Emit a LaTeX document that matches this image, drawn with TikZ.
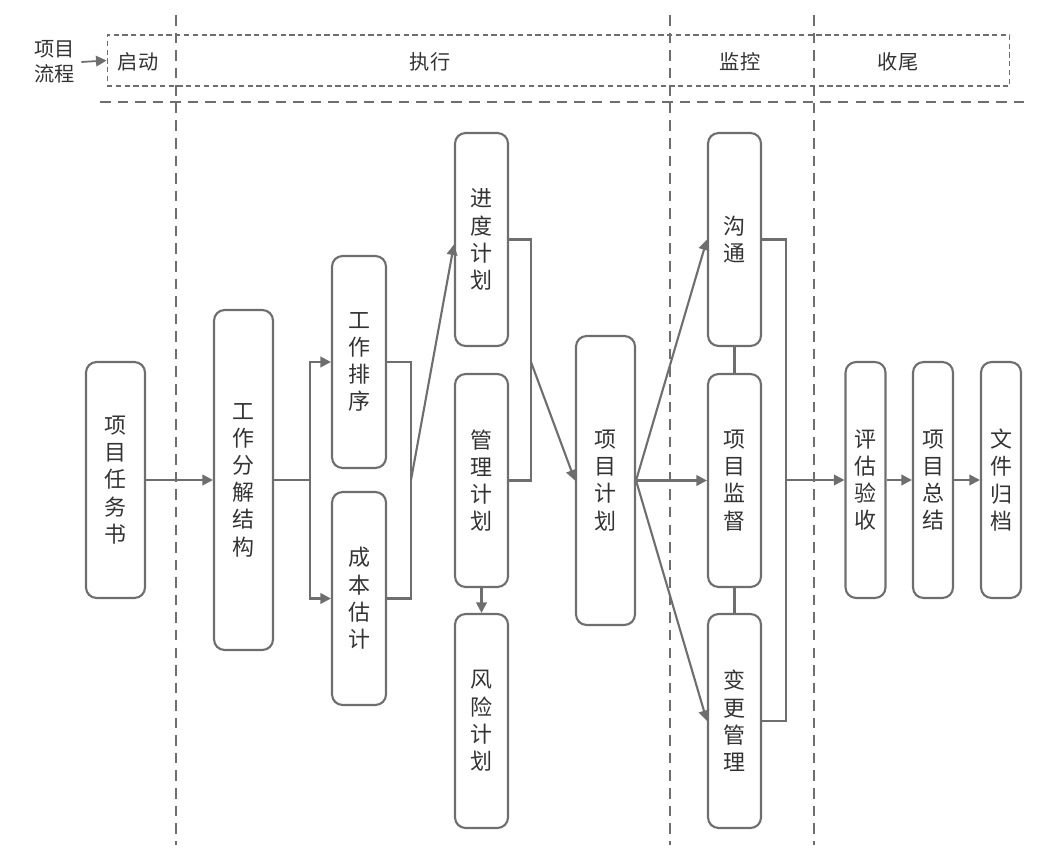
\documentclass[tikz,border=0pt]{standalone}
\usepackage{fontspec}
\setmainfont{Noto Sans CJK SC}
\usetikzlibrary{arrows.meta,positioning}
\definecolor{linegray}{HTML}{6E6E6E}
\tikzset{
    box/.style={draw=linegray, line width=1.2pt, rounded corners=6pt, inner sep=0pt,
        align=center, font=\fontsize{12.5}{15.5}\selectfont, text=black!80}, % vertical text boxes
    arrow/.style={draw=linegray, line width=1.2pt, -{Triangle[length=6pt,width=6pt]}},
    link/.style={draw=linegray, line width=1.2pt},
    stage/.style={font=\fontsize{11.5}{14}\selectfont, text=black!80},
    sep/.style={draw=linegray, line width=1.4pt, dash pattern=on 6pt off 4pt},
}
\begin{document}
\begin{tikzpicture}[x=0.02cm, y=-0.02cm]
    \useasboundingbox (0,0) rectangle (1040,861);

    % header
    \node[stage, align=center] (flow) at (55,62) {项目\\流程};
    \node[draw=linegray, dash pattern=on 3pt off 2pt, line width=0.6pt, minimum width=18.06cm, minimum height=1.02cm, inner sep=0pt] (band) at (558.5,60.5) {};
    \draw[arrow, line width=1pt] (flow.east) -- (band.west);
    \node[stage] (start) at (138,62) {启动};
    \node[stage] (exec) at (430,62) {执行};
    \node[stage] (monitor) at (740,62) {监控};
    \node[stage] (close) at (898,62) {收尾};

    % phase separators
    \coordinate (hl) at (100,102);
    \coordinate (hr) at (1030,102);
    \draw[sep] (hl) -- (hr);
    \foreach \x [count=\i] in {176,670,814} {
        \coordinate (top\i) at (\x,15);
        \coordinate (bot\i) at (\x,845);
        \draw[sep] (top\i) -- (bot\i);
    }

    % boxes
    \node[box, minimum width=1.18cm, minimum height=4.72cm] (task) at (115.5,480) {项\\目\\任\\务\\书};
    \node[box, minimum width=1.18cm, minimum height=6.8cm] (wbs) at (243.5,480) {工\\作\\分\\解\\结\\构};
    \node[box, minimum width=1.08cm, minimum height=4.24cm] (order) at (359,362) {工\\作\\排\\序};
    \node[box, minimum width=1.08cm, minimum height=4.26cm] (cost) at (359,598.5) {成\\本\\估\\计};
    \node[box, minimum width=1.06cm, minimum height=4.26cm] (sched) at (481.5,239.5) {进\\度\\计\\划};
    \node[box, minimum width=1.06cm, minimum height=4.26cm] (mgmt) at (481.5,480.5) {管\\理\\计\\划};
    \node[box, minimum width=1.06cm, minimum height=4.28cm] (risk) at (481.5,721) {风\\险\\计\\划};
    \node[box, minimum width=1.18cm, minimum height=5.78cm] (plan) at (605.5,480.5) {项\\目\\计\\划};
    \node[box, minimum width=1.06cm, minimum height=4.26cm] (comm) at (734.5,239.5) {沟\\通};
    \node[box, minimum width=1.06cm, minimum height=4.26cm] (watch) at (734.5,480.5) {项\\目\\监\\督};
    \node[box, minimum width=1.06cm, minimum height=4.28cm] (change) at (734.5,721) {变\\更\\管\\理};
    \node[box, minimum width=0.8cm, minimum height=4.72cm] (accept) at (865.5,480) {评\\估\\验\\收};
    \node[box, minimum width=0.8cm, minimum height=4.72cm] (summary) at (933,480) {项\\目\\总\\结};
    \node[box, minimum width=0.8cm, minimum height=4.72cm] (archive) at (1001,480) {文\\件\\归\\档};

    % connectors
    \draw[arrow] (task) -- (wbs);
    \coordinate (split1) at (310,480);
    \coordinate (join1) at (411,480);
    \coordinate (join2) at (531,362);
    \coordinate (join3) at (786,480);
    \draw[link] (wbs) -- (split1);
    \draw[arrow] (split1) |- (order.west);
    \draw[arrow] (split1) |- (cost.west);
    \draw[link] (order.east) -| (join1) |- (cost.east);
    \draw[arrow] (join1) -- ([yshift=-0.1cm]sched.west);
    \draw[link] (sched.east) -| (join2) |- (mgmt.east);
    \draw[arrow] (join2) -- (plan.west);
    \draw[arrow] (mgmt) -- (risk);
    \draw[arrow] (plan.east) -- (comm.west);
    \draw[arrow] (plan.east) -- (watch.west);
    \draw[arrow] (plan.east) -- (change.west);
    \draw[link] (comm) -- (watch);
    \draw[link] (watch) -- (change);
    \draw[link] (comm.east) -| (join3) |- (change.east);
    \draw[arrow] (join3) -- (accept);
    \draw[arrow] (accept) -- (summary);
    \draw[arrow] (summary) -- (archive);
\end{tikzpicture}
\end{document}
